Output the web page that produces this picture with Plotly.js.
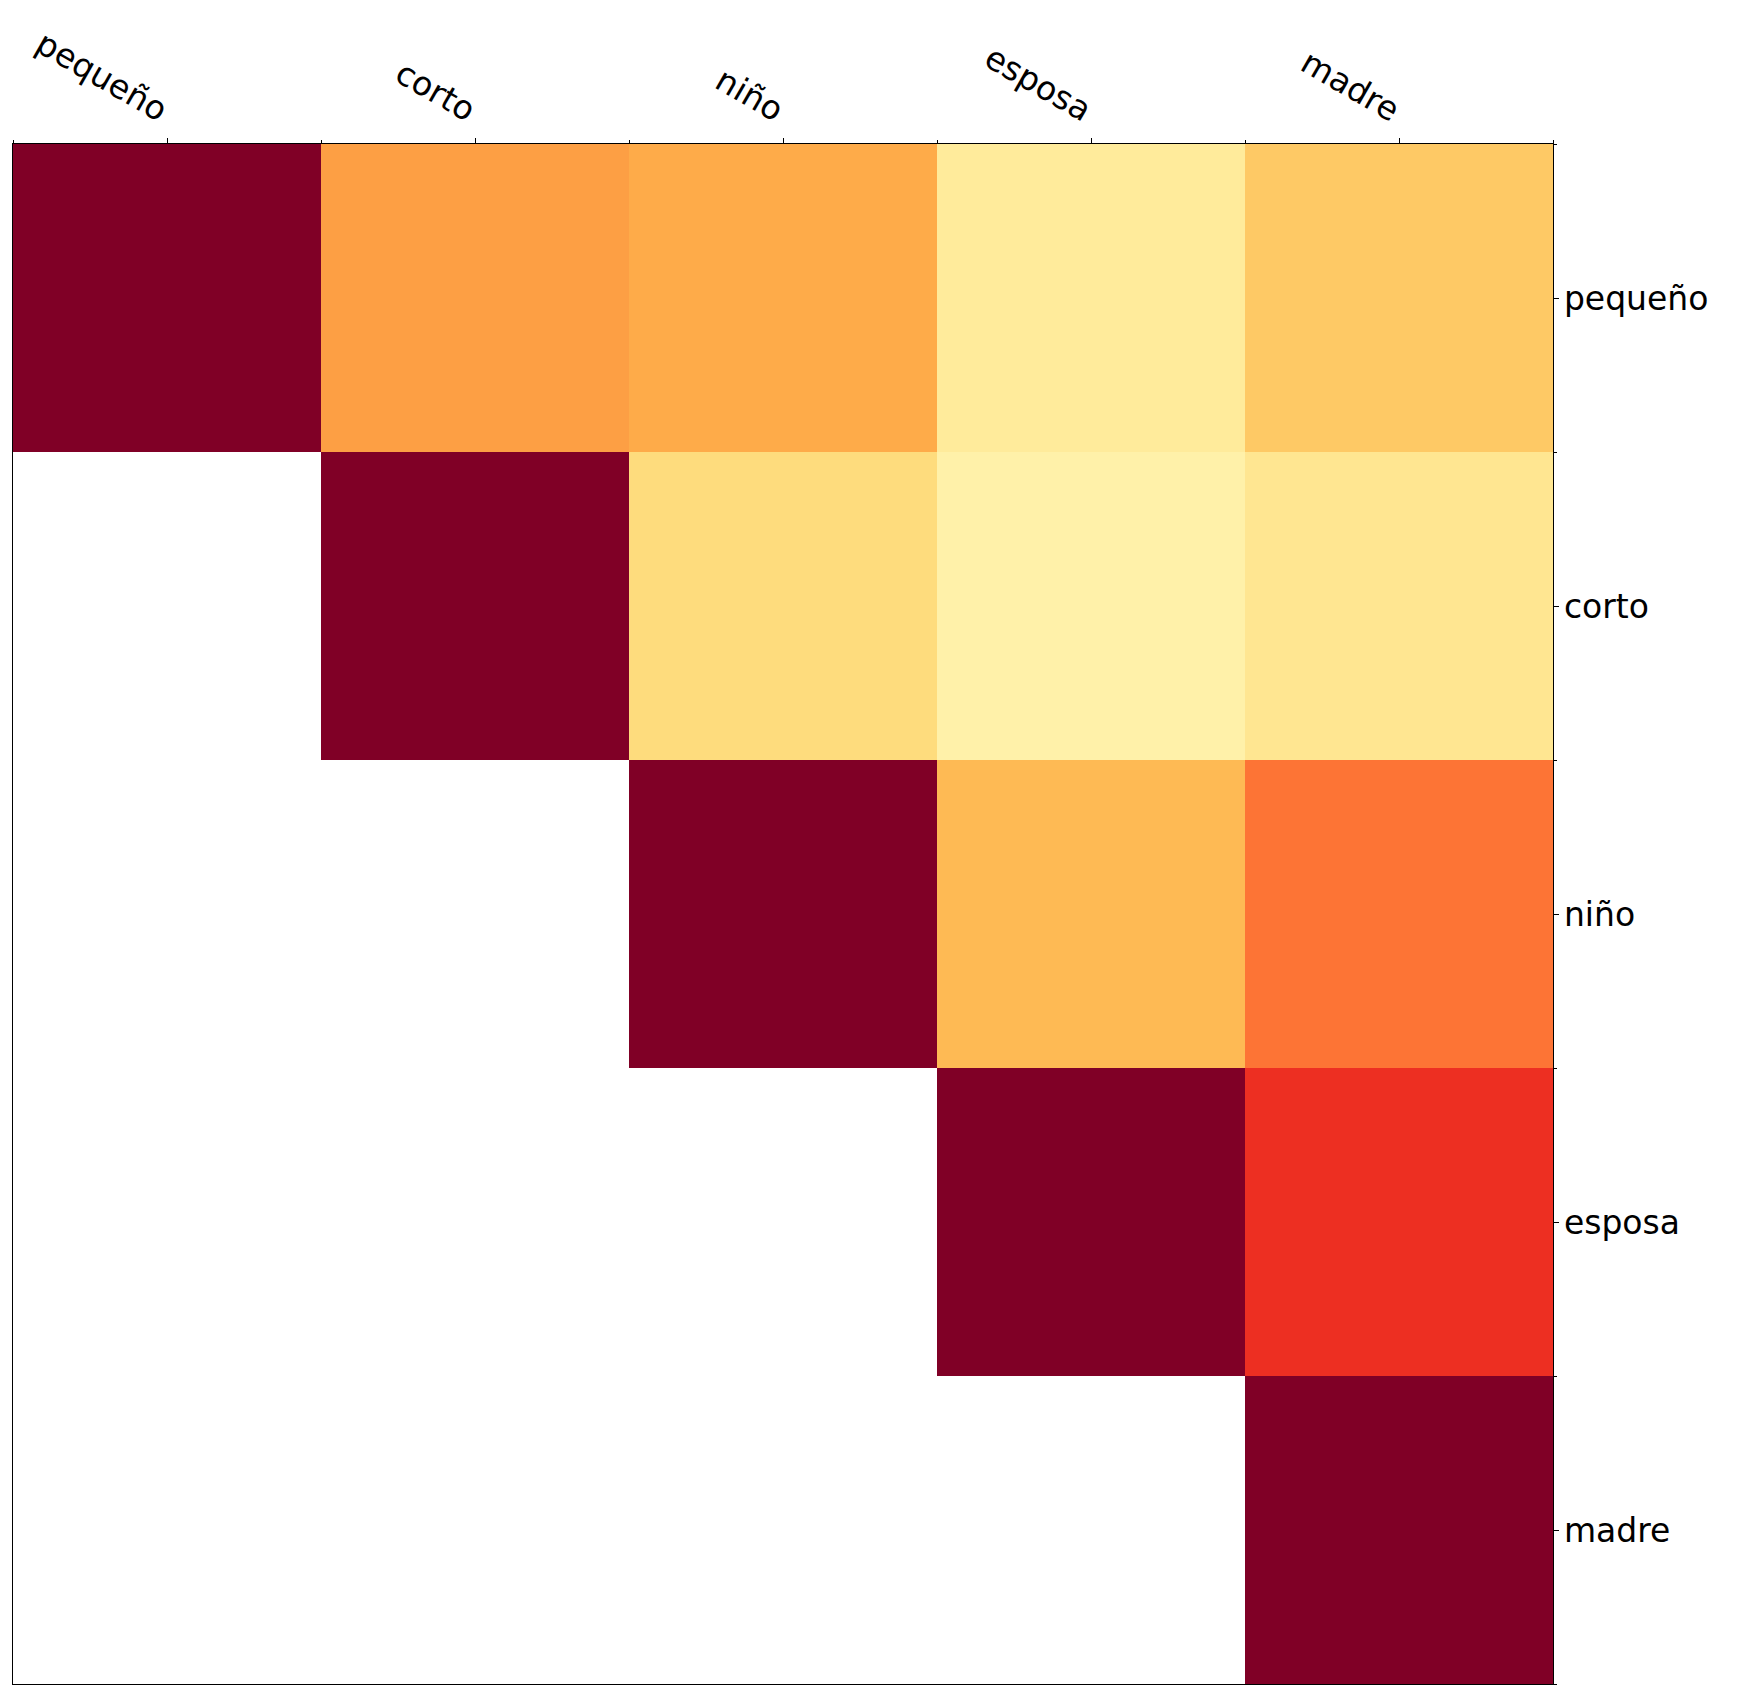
<!DOCTYPE html>
<html>
<head>
<meta charset="utf-8">
<script src="https://cdn.plot.ly/plotly-3.0.1.min.js"></script>
<style>
  html, body { margin: 0; padding: 0; background: #fff; }
  #chart { width: 1755px; height: 1693px; }
</style>
</head>
<body>
<div id="chart"></div>
<script>
// Word labels shared by both axes
const words = ["pequeño", "corto", "niño", "esposa", "madre"];

// Upper-triangular similarity values, one row per word (null = not shown)
const rowPequeno = [1.0, 0.44, 0.40, 0.14, 0.30];
const rowCorto   = [null, 1.0, 0.23, 0.10, 0.17];
const rowNino    = [null, null, 1.0, 0.35, 0.55];
const rowEsposa  = [null, null, null, 1.0, 0.70];
const rowMadre   = [null, null, null, null, 1.0];

// Yellow-orange-red sequential scale
const ylOrRd = [
  [0.000, "#ffffcc"], [0.125, "#ffeda0"], [0.250, "#fed976"],
  [0.375, "#feb24c"], [0.500, "#fd8d3c"], [0.625, "#fc4e2a"],
  [0.750, "#e31a1c"], [0.875, "#bd0026"], [1.000, "#800026"]
];

const idx = words.map((_, i) => i);
const edges = [];
for (let i = 0; i <= words.length; i++) edges.push(i - 0.5);

const trace = {
  type: "heatmap",
  x: idx,
  y: idx,
  z: [rowPequeno, rowCorto, rowNino, rowEsposa, rowMadre],
  colorscale: ylOrRd,
  zmin: 0,
  zmax: 1,
  showscale: false,
  hoverongaps: false
};

const font = { family: "DejaVu Sans", size: 33, color: "#000" };

const axisCommon = {
  tickmode: "array",
  tickvals: idx,
  ticktext: words,
  ticks: "outside",
  ticklen: 5,
  tickwidth: 1,
  tickcolor: "#000",
  showline: true,
  mirror: true,
  linecolor: "#000",
  linewidth: 1.3,
  showgrid: false,
  zeroline: false,
  tickfont: font,
  automargin: false,
  minor: {
    tickmode: "array",
    tickvals: edges,
    ticks: "outside",
    ticklen: 3,
    tickwidth: 1,
    tickcolor: "#000",
    showgrid: false
  }
};

const layout = {
  width: 1755,
  height: 1693,
  margin: { l: 13, r: 202, t: 144, b: 9, pad: 0 },
  paper_bgcolor: "#fff",
  plot_bgcolor: "#fff",
  font: font,
  xaxis: Object.assign({}, axisCommon, {
    side: "top",
    range: [-0.5, 4.5],
    tickangle: 30
  }),
  yaxis: Object.assign({}, axisCommon, {
    side: "right",
    range: [4.5, -0.5],
    tickangle: 0,
    ticklabelstandoff: -2
  })
};

Plotly.newPlot("chart", [trace], layout, { displayModeBar: false, staticPlot: true });
</script>
</body>
</html>
